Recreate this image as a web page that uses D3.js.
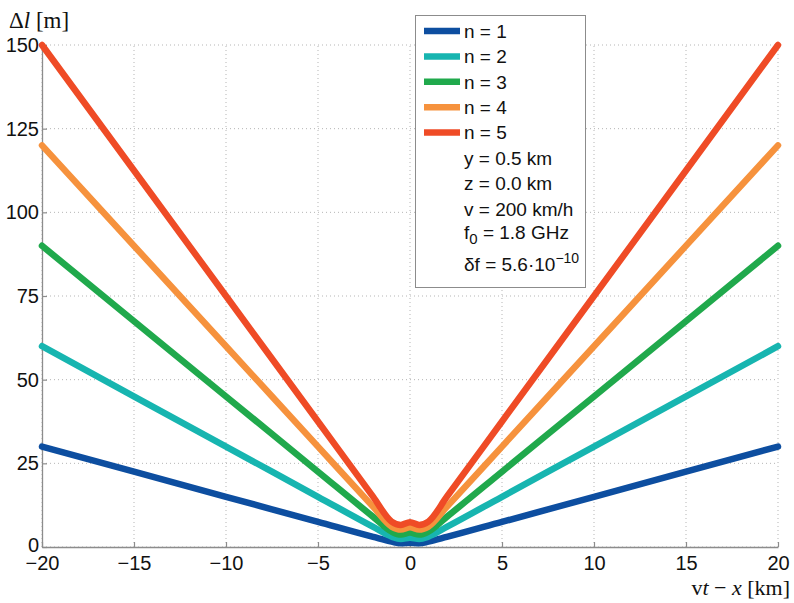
<!DOCTYPE html>
<html>
<head>
<meta charset="utf-8">
<script src="https://cdn.jsdelivr.net/npm/d3@7"></script>
<style>
  body { margin: 0; background: #fff; }
  svg { display: block; }
</style>
</head>
<body>
<svg id="chart" width="794" height="603"></svg>
<script>
// values (vt - x in km, Δl in m)
const xVals = [-20, -10, -5, -2, -1, -0.5, 0, 0.5, 1, 2, 5, 10, 20];
const n1 = [30, 15, 7.5, 3.0, 1.6, 1.1, 1.3, 1.1, 1.6, 3.0, 7.5, 15, 30];
const n2 = [60, 30, 15, 6.0, 3.1, 2.4, 2.8, 2.4, 3.1, 6.0, 15, 30, 60];
const n3 = [90, 45, 22.5, 9.0, 4.6, 3.7, 4.3, 3.7, 4.6, 9.0, 22.5, 45, 90];
const n4 = [120, 60, 30, 12, 6.1, 5.2, 5.9, 5.2, 6.1, 12, 30, 60, 120];
const n5 = [150, 75, 37.5, 15, 7.6, 6.6, 7.4, 6.6, 7.6, 15, 37.5, 75, 150];
const seriesNames = ['n = 1', 'n = 2', 'n = 3', 'n = 4', 'n = 5'];
const seriesColors = ['#0d4ea0', '#17b5b0', '#20a94c', '#f6923d', '#ef4b26'];
const xTicks = [-20, -15, -10, -5, 0, 5, 10, 15, 20];
const yTicks = [0, 25, 50, 75, 100, 125, 150];

const series = [n1, n2, n3, n4, n5].map((vals, i) => ({
  name: seriesNames[i],
  color: seriesColors[i],
  points: xVals.map((x, j) => ({ x: x, y: vals[j] })),
}));

const svg = d3.select('#chart');
const sans = "'Liberation Sans', Arial, sans-serif";
const serif = "'Liberation Serif', 'Times New Roman', serif";

const x = d3.scaleLinear().domain([-20, 20]).range([42, 778]);
const y = d3.scaleLinear().domain([0, 150]).range([547, 45]);

/****************** grid ******************/
const grid = svg.append('g');
grid.selectAll('line.gx')
  .data(xTicks)
  .join('line')
  .attr('x1', d => x(d)).attr('x2', d => x(d))
  .attr('y1', y(0)).attr('y2', y(150))
  .attr('stroke', '#b5b5b5')
  .attr('stroke-dasharray', '1,3');
grid.selectAll('line.gy')
  .data(yTicks)
  .join('line')
  .attr('x1', x(-20)).attr('x2', x(20))
  .attr('y1', d => y(d)).attr('y2', d => y(d))
  .attr('stroke', '#b5b5b5')
  .attr('stroke-dasharray', '1,3');

/****************** axes ******************/
const yAxis = svg.append('g')
  .attr('transform', `translate(${x(-20)},0)`)
  .call(d3.axisLeft(y).tickValues(yTicks).tickSize(-5).tickSizeOuter(0).tickPadding(3));
const xAxis = svg.append('g')
  .attr('transform', `translate(0,${y(0)})`)
  .call(d3.axisBottom(x).tickValues(xTicks).tickFormat(d => d < 0 ? '\u2212' + Math.abs(d) : d)
    .tickSize(-5).tickSizeOuter(0).tickPadding(9));

[yAxis, xAxis].forEach(ax => {
  ax.select('.domain').attr('stroke', '#8c8c8c').attr('stroke-width', 1.3);
  ax.selectAll('.tick line').attr('stroke', '#8c8c8c').attr('stroke-width', 1.2);
  ax.selectAll('.tick text')
    .attr('fill', '#111')
    .attr('font-size', '20px')
    .attr('font-family', sans);
});
// the 0 label sits a touch above the -20 label, as in the original
yAxis.selectAll('.tick text').filter(d => d === 0).attr('dy', '0.2em');

/****************** curves ******************/
const line = d3.line()
  .x(d => x(d.x))
  .y(d => y(d.y))
  .curve(d3.curveMonotoneX);

svg.append('g')
  .selectAll('path')
  .data(series)
  .join('path')
  .attr('d', d => line(d.points))
  .attr('fill', 'none')
  .attr('stroke', d => d.color)
  .attr('stroke-width', 6.5)
  .attr('stroke-linecap', 'round')
  .attr('stroke-linejoin', 'round');

/****************** axis labels ******************/
const yLab = svg.append('text')
  .attr('x', 9).attr('y', 28)
  .attr('font-size', '23px')
  .attr('font-family', serif)
  .attr('fill', '#111');
yLab.append('tspan').text('\u0394');
yLab.append('tspan').attr('font-style', 'italic').text('l');
yLab.append('tspan').text(' [m]');

const xLab = svg.append('text')
  .attr('x', 790).attr('y', 595)
  .attr('text-anchor', 'end')
  .attr('font-size', '22px')
  .attr('font-family', serif)
  .attr('fill', '#111');
xLab.append('tspan').text('v');
xLab.append('tspan').attr('font-style', 'italic').text('t');
xLab.append('tspan').text(' \u2212 ');
xLab.append('tspan').attr('font-style', 'italic').text('x');
xLab.append('tspan').text(' [km]');

/****************** legend ******************/
const legend = svg.append('g');
legend.append('rect')
  .attr('x', 415.5).attr('y', 15.5)
  .attr('width', 170).attr('height', 272)
  .attr('fill', '#fff')
  .attr('stroke', '#8c8c8c')
  .attr('stroke-width', 1);

const rowY = i => 31 + i * 25.4;

legend.selectAll('line.key')
  .data(series)
  .join('line')
  .attr('x1', 424).attr('x2', 460)
  .attr('y1', (d, i) => rowY(i)).attr('y2', (d, i) => rowY(i))
  .attr('stroke', d => d.color)
  .attr('stroke-width', 6.5);

legend.selectAll('text.key')
  .data(series)
  .join('text')
  .attr('x', 464)
  .attr('y', (d, i) => rowY(i))
  .attr('dy', '0.36em')
  .attr('font-size', '19px')
  .attr('font-family', sans)
  .attr('fill', '#111')
  .text(d => d.name);

// parameter rows
const paramStyle = t => t
  .attr('x', 464)
  .attr('dy', '0.36em')
  .attr('font-size', '19px')
  .attr('font-family', sans)
  .attr('fill', '#111');

legend.append('text').call(paramStyle).attr('y', rowY(5)).text('y = 0.5 km');
legend.append('text').call(paramStyle).attr('y', rowY(6)).text('z = 0.0 km');
legend.append('text').call(paramStyle).attr('y', rowY(7)).text('v = 200 km/h');

const f0 = legend.append('text').call(paramStyle).attr('y', rowY(8) - 2);
f0.append('tspan').text('f');
f0.append('tspan').attr('font-size', '15px').attr('dy', '5').text('0');
f0.append('tspan').attr('dy', '-5').text(' = 1.8 GHz');

const df = legend.append('text').call(paramStyle).attr('y', rowY(9) + 5);
df.append('tspan').text('\u03b4f = 5.6\u00b710');
df.append('tspan').attr('font-size', '14px').attr('dy', '-8').text('\u221210');
</script>
</body>
</html>
